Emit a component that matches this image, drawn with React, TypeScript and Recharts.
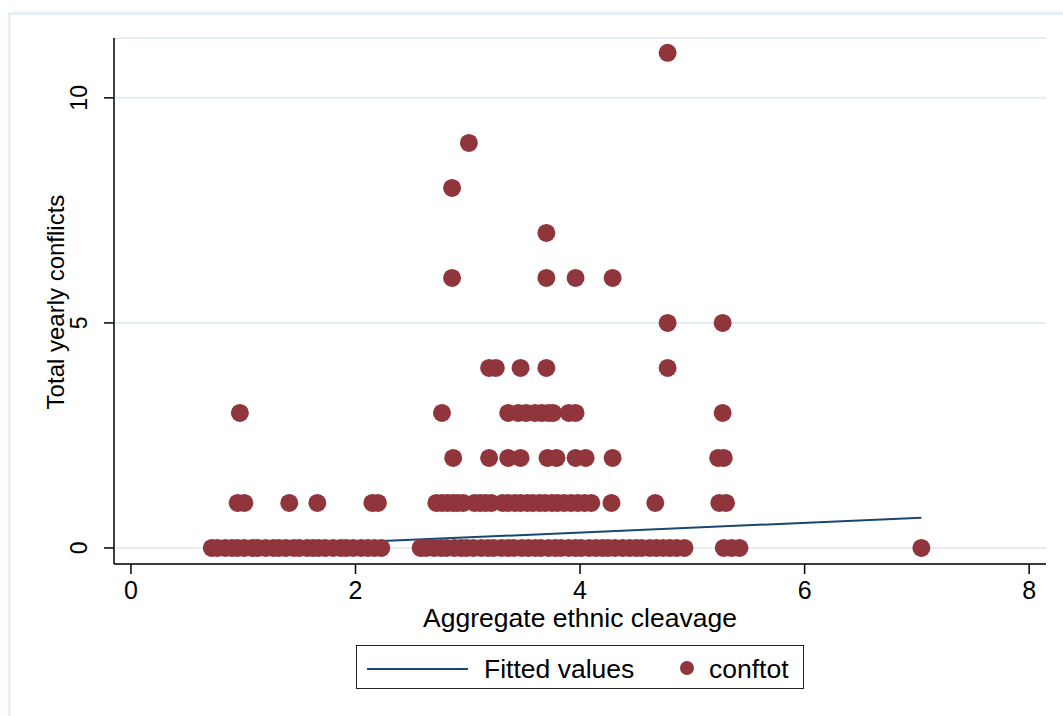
import { ScatterChart, Scatter, XAxis, YAxis, CartesianGrid } from "recharts";

// conftot observations, grouped by yearly conflict count
const xAtZero = [
  0.72, 0.77, 0.84, 0.9, 0.95, 1.01, 1.08, 1.13, 1.2, 1.27, 1.32, 1.38, 1.45, 1.5,
  1.57, 1.62, 1.67, 1.73, 1.8, 1.87, 1.92, 1.98, 2.05, 2.11, 2.17, 2.23,
  2.58, 2.63, 2.7, 2.76, 2.81, 2.88, 2.94, 2.99, 3.05, 3.12, 3.18, 3.23, 3.3, 3.36,
  3.41, 3.48, 3.54, 3.6, 3.65, 3.72, 3.78, 3.83, 3.9, 3.96, 4.01, 4.08, 4.14, 4.2,
  4.25, 4.31, 4.38, 4.44, 4.5, 4.55, 4.62, 4.68, 4.74, 4.8, 4.86, 4.93,
  5.28, 5.35, 5.42, 7.04,
];
const xAtOne = [
  0.95, 1.01, 1.41, 1.66, 2.15, 2.2, 2.72, 2.77, 2.82, 2.87, 2.91, 2.96, 3.06, 3.11,
  3.16, 3.21, 3.31, 3.36, 3.42, 3.47, 3.53, 3.58, 3.64, 3.69, 3.75, 3.8, 3.86, 3.92,
  3.98, 4.04, 4.1, 4.28, 4.67, 5.24, 5.3,
];
const xAtTwo = [2.87, 3.19, 3.36, 3.47, 3.71, 3.79, 3.96, 4.05, 4.29, 5.23, 5.28];
const xAtThree = [0.97, 2.77, 3.36, 3.45, 3.52, 3.6, 3.66, 3.72, 3.76, 3.9, 3.96, 5.27];
const xAtFour = [3.19, 3.25, 3.47, 3.7, 4.78];
const xAtFive = [4.78, 5.27];
const xAtSix = [2.86, 3.7, 3.96, 4.29];
const xAtSeven = [3.7];
const xAtEight = [2.86];
const xAtNine = [3.01];
const xAtEleven = [4.78];

// linear fit (Fitted values)
const fitX = [0.72, 7.04];
const fitY = [-0.01, 0.67];

const xTicks = [0, 2, 4, 6, 8];
const yTicks = [0, 5, 10];

const groups: Array<[number, number[]]> = [
  [0, xAtZero],
  [1, xAtOne],
  [2, xAtTwo],
  [3, xAtThree],
  [4, xAtFour],
  [5, xAtFive],
  [6, xAtSix],
  [7, xAtSeven],
  [8, xAtEight],
  [9, xAtNine],
  [11, xAtEleven],
];
const conftot = groups.flatMap(([y, xs]) => xs.map((x) => ({ x, y })));
const fitted = fitX.map((x, i) => ({ x, y: fitY[i] }));

const MAROON = "#90353B";
const NAVY = "#1A476F";
const FONT = "'Liberation Sans', Arial, sans-serif";

const Dot = (props: any) => <circle cx={props.cx} cy={props.cy} r={9} fill={MAROON} />;
const NoDot = () => <g />;

const XTick = ({ x, y, payload }: any) => (
  <text x={x} y={y} dy={23} textAnchor="middle" fontSize={25} fontFamily={FONT} fill="#000">
    {payload.value}
  </text>
);

const YTick = ({ x, y, payload }: any) => (
  <text
    transform={`translate(${x - 15}, ${y}) rotate(-90)`}
    textAnchor="middle"
    fontSize={23}
    fontFamily={FONT}
    fill="#000"
  >
    {payload.value}
  </text>
);

export default function App() {
  return (
    <div style={{ position: "absolute", left: 0, top: 0, width: 1063, height: 716, background: "#fff", overflow: "hidden", fontFamily: FONT }}>
      <div
        style={{
          position: "absolute",
          left: 8,
          top: 12,
          width: 1100,
          height: 800,
          borderTop: "3px solid #e9f0f3",
          borderLeft: "3px solid #e9f0f3",
        }}
      />
      <ScatterChart width={1063} height={716} margin={{ top: 38, right: 17, left: 0, bottom: 92 }}>
        <CartesianGrid vertical={false} stroke="#e4eef0" strokeWidth={2} />
        <XAxis
          type="number"
          dataKey="x"
          domain={[-0.151, 8.15]}
          ticks={xTicks}
          allowDataOverflow
          height={60}
          stroke="#000"
          strokeWidth={1.5}
          tickSize={10}
          tick={<XTick />}
        />
        <YAxis
          type="number"
          dataKey="y"
          domain={[-0.356, 11.33]}
          ticks={yTicks}
          allowDataOverflow
          width={114}
          stroke="#000"
          strokeWidth={1.5}
          tickSize={10}
          tick={<YTick />}
        />
        <Scatter
          data={fitted}
          shape={<NoDot />}
          line={{ stroke: NAVY, strokeWidth: 2 }}
          isAnimationActive={false}
        />
        <Scatter data={conftot} shape={<Dot />} isAnimationActive={false} />
        <text x={580} y={627} textAnchor="middle" fontSize={26.5} fontFamily={FONT} fill="#000">
          Aggregate ethnic cleavage
        </text>
        <text
          transform="translate(64, 302) rotate(-90)"
          textAnchor="middle"
          fontSize={24}
          fontFamily={FONT}
          fill="#000"
        >
          Total yearly conflicts
        </text>
      </ScatterChart>
      <div
        style={{
          position: "absolute",
          left: 356,
          top: 645,
          width: 446,
          height: 42,
          border: "1.5px solid #222",
          background: "#fff",
        }}
      >
        <svg width={446} height={42} style={{ position: "absolute", left: 0, top: 0 }}>
          <line x1={10} y1={23} x2={111} y2={23} stroke={NAVY} strokeWidth={2} />
          <circle cx={330} cy={22} r={7} fill={MAROON} />
          <text x={127} y={32} fontSize={26.5} fontFamily={FONT} fill="#000">
            Fitted values
          </text>
          <text x={352} y={32} fontSize={26.5} fontFamily={FONT} fill="#000">
            conftot
          </text>
        </svg>
      </div>
    </div>
  );
}
